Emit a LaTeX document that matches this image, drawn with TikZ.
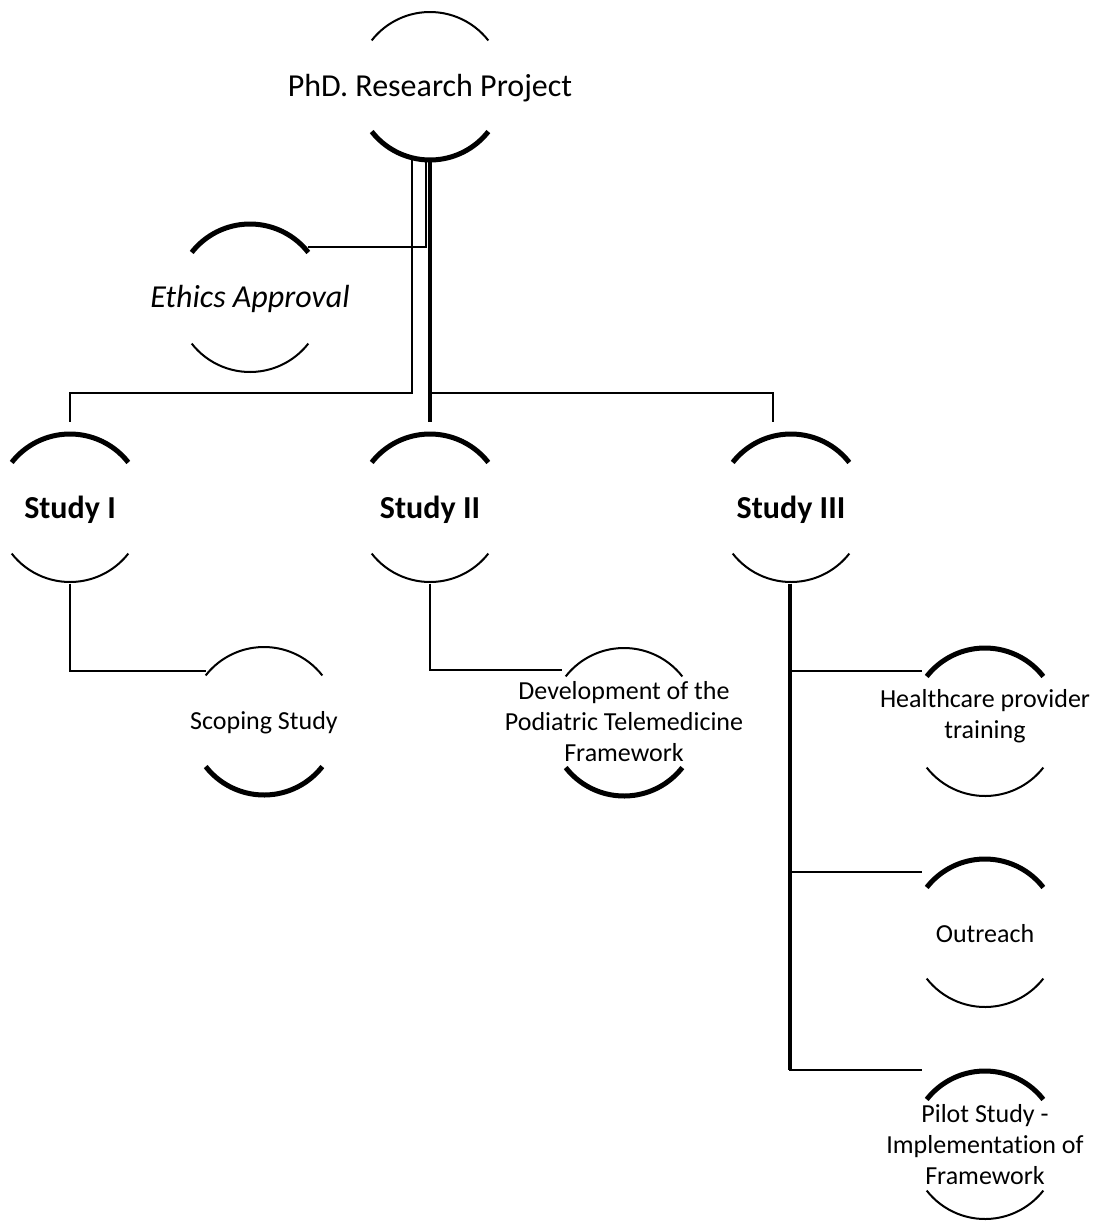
\documentclass[tikz,border=0pt]{standalone}
\usepackage{fontspec}
\setmainfont{Carlito}[Ligatures=NoCommon]
\usetikzlibrary{calc,positioning}

\begin{document}
\begin{tikzpicture}[x=0.5pt,y=0.5pt]

\tikzset{
big/.style={font=\fontsize{16}{19}\selectfont,align=center,inner sep=0pt},
small/.style={font=\fontsize{13}{15.5}\selectfont,align=center,inner sep=0pt},
thinarc/.style={line width=1pt},
thickarc/.style={line width=2.5pt},
link/.style={line width=1pt},
trunk/.style={line width=1.6pt}
}

\useasboundingbox (0,0) rectangle (1096,-1221);

% Nodes
\node[big] (phd) at (430,-88) {PhD. Research Project};
\node[big] (ethics) at (250,-299) {\itshape Ethics Approval};

\node[big] (study1) at (70,-510) {\bfseries Study I};
\node[big] (study2) at (430,-510) {\bfseries Study II};
\node[big] (study3) at (791,-510) {\bfseries Study III};

\node[small] (scoping) at (264,-723) {Scoping Study};
\node[small] (develop) at (624,-722) {Development of the\\Podiatric Telemedicine\\Framework};

\node[small] (training) at (985,-716) {Healthcare provider\\training};
\node[small] (outreach) at (985,-934) {Outreach};
\node[small] (pilot) at (985,-1145) {Pilot Study -\\Implementation of\\Framework};


% Arcs

\draw[thinarc] ($(phd)+(0,2)+(38:74)$) arc[start angle=38,end angle=142,radius=74];
\draw[thickarc] ($(phd)+(0,2)+(218:74)$) arc[start angle=218,end angle=322,radius=74];

\draw[thickarc] ($(ethics)+(0,1)+(38:74)$) arc[start angle=38,end angle=142,radius=74];
\draw[thinarc] ($(ethics)+(0,1)+(218:74)$) arc[start angle=218,end angle=322,radius=74];

\draw[thickarc] ($(study1)+(0,2)+(38:74)$) arc[start angle=38,end angle=142,radius=74];
\draw[thinarc] ($(study1)+(0,2)+(218:74)$) arc[start angle=218,end angle=322,radius=74];

\draw[thickarc] ($(study2)+(0,2)+(38:74)$) arc[start angle=38,end angle=142,radius=74];
\draw[thinarc] ($(study2)+(0,2)+(218:74)$) arc[start angle=218,end angle=322,radius=74];

\draw[thickarc] ($(study3)+(0,2)+(38:74)$) arc[start angle=38,end angle=142,radius=74];
\draw[thinarc] ($(study3)+(0,2)+(218:74)$) arc[start angle=218,end angle=322,radius=74];

\draw[thinarc] ($(scoping)+(0,2)+(38:74)$) arc[start angle=38,end angle=142,radius=74];
\draw[thickarc] ($(scoping)+(0,2)+(218:74)$) arc[start angle=218,end angle=322,radius=74];

\draw[thinarc] ($(develop)+(38:74)$) arc[start angle=38,end angle=142,radius=74];
\draw[thickarc] ($(develop)+(218:74)$) arc[start angle=218,end angle=322,radius=74];

\draw[thickarc] ($(training)+(0,-6)+(38:74)$) arc[start angle=38,end angle=142,radius=74];
\draw[thinarc] ($(training)+(0,-6)+(218:74)$) arc[start angle=218,end angle=322,radius=74];

\draw[thickarc] ($(outreach)+(0,1)+(38:74)$) arc[start angle=38,end angle=142,radius=74];
\draw[thinarc] ($(outreach)+(0,1)+(218:74)$) arc[start angle=218,end angle=322,radius=74];

\draw[thickarc] ($(pilot)+(38:74)$) arc[start angle=38,end angle=142,radius=74];
\draw[thinarc] ($(pilot)+(218:74)$) arc[start angle=218,end angle=322,radius=74];


% Lines

\coordinate (phdbot) at ($(phd)+(0,-72)$);
\coordinate (s1top) at ($(study1)+(0,88)$);
\coordinate (s2top) at ($(study2)+(0,88)$);
\coordinate (s3top) at ($(study3)+(-18,88)$);

\draw[link] ($(phdbot)+(-18,0)$) |- ($(s1top)+(0,29)$) -- (s1top);
\draw[link] ($(phdbot)+(-4,0)$) |- ($(ethics)+(58,52)$);
\draw[trunk] (phdbot) -- (s2top);
\draw[link] ($(s2top)+(0,29)$) -| (s3top);

\draw[link] ($(study1)+(0,-74)$) |- ($(scoping)+(-58,52)$);
\draw[link] ($(study2)+(0,-74)$) |- ($(develop)+(-62,52)$);

\draw[link] ($(study3)+(-1,-74)$) |- ($(training)+(-63,45)$);
\draw[link] ($(study3)+(-1,-74)$) |- ($(outreach)+(-63,62)$);
\draw[link] ($(study3)+(-1,-74)$) |- ($(pilot)+(-63,75)$);
\draw[trunk] ($(study3)+(-1,-74)$) -- ($(study3)+(-1,-560)$);

\end{tikzpicture}
\end{document}
